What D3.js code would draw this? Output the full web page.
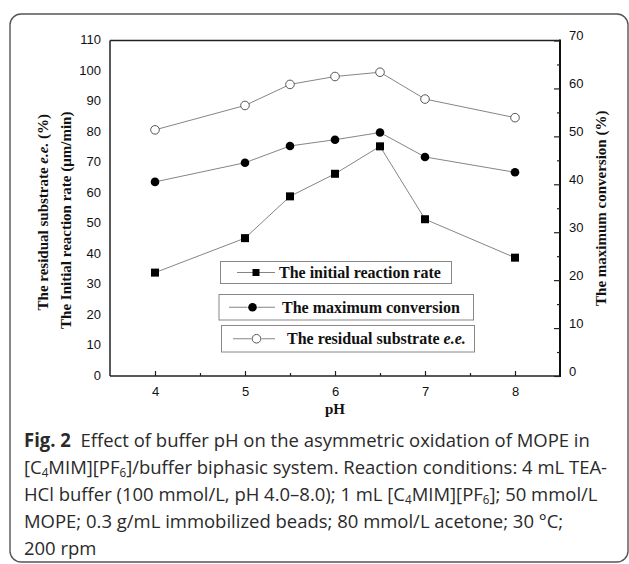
<!DOCTYPE html>
<html>
<head>
<meta charset="utf-8">
<script src="https://cdn.jsdelivr.net/npm/d3@7"></script>
<style>
  html, body { margin: 0; padding: 0; background: #fff; }
  svg { display: block; }
</style>
</head>
<body>
<svg id="chart" width="629" height="564"></svg>
<script>
// ---- data ----
const pH = [4, 5, 5.5, 6, 6.5, 7, 8];
const initialRate = [33.9, 45.2, 58.9, 66.3, 75.3, 51.4, 38.8];      // left axis
const maxConversion = [40.5, 44.5, 48.0, 49.3, 50.8, 45.7, 42.5];    // right axis
const residualEE = [80.7, 88.7, 95.6, 98.2, 99.6, 90.8, 84.7];       // left axis
const xTickLabels = [4, 5, 6, 7, 8];
const xMinorTicks = [4.5, 5.5, 6.5, 7.5];
const leftTickLabels = [0, 10, 20, 30, 40, 50, 60, 70, 80, 90, 100, 110];
const rightTickLabels = [0, 10, 20, 30, 40, 50, 60, 70];
const rightMinorTicks = [5, 15, 25, 35, 45, 55, 65];
const legendLabels = ["The initial reaction rate", "The maximum conversion", "The residual substrate "];

// ---- layout ----
const svg = d3.select("#chart");
const L = 110, R = 560, T = 40.5, B = 376;
const x = d3.scaleLinear().domain([3.5, 8.5]).range([L, R]);
const yL = d3.scaleLinear().domain([0, 110]).range([B, T]);
const yR = d3.scaleLinear().domain([0, 70]).range([B, T]);

// outer rounded border
svg.append("rect").attr("x", 10).attr("y", 14).attr("width", 618).attr("height", 548)
  .attr("rx", 11).attr("fill", "none").attr("stroke", "#555").attr("stroke-width", 1.4);

const serif = "'Liberation Serif', 'Times New Roman', serif";
const sans = "'Liberation Sans', Arial, sans-serif";

// frame
svg.append("line").attr("x1", L).attr("x2", R).attr("y1", T).attr("y2", T).attr("stroke", "#222").attr("stroke-width", 1.5);
svg.append("line").attr("x1", L).attr("x2", L).attr("y1", T).attr("y2", B).attr("stroke", "#222").attr("stroke-width", 1.5);
svg.append("line").attr("x1", L).attr("x2", R).attr("y1", B).attr("y2", B).attr("stroke", "#222").attr("stroke-width", 1.5);
svg.append("line").attr("x1", R).attr("x2", R).attr("y1", T - 1).attr("y2", B + 1).attr("stroke", "#111").attr("stroke-width", 2);

// bottom axis (ticks inward)
const xAxis = d3.axisBottom(x).tickValues(xTickLabels).tickSize(-5).tickPadding(11).tickFormat(d3.format("d"));
const gx = svg.append("g").attr("transform", `translate(0,${B})`).call(xAxis);
gx.select(".domain").remove();
gx.selectAll("line").attr("stroke", "#222").attr("stroke-width", 1.2);
gx.selectAll("text").attr("font-family", sans).attr("font-size", 13).attr("fill", "#111");
const gxm = svg.append("g").attr("transform", `translate(0,${B})`)
  .call(d3.axisBottom(x).tickValues(xMinorTicks).tickSize(-3).tickFormat(""));
gxm.select(".domain").remove();
gxm.selectAll("line").attr("stroke", "#222").attr("stroke-width", 1.2);

// left axis (labels only)
const gl = svg.append("g").attr("transform", `translate(${L},0)`)
  .call(d3.axisLeft(yL).tickValues(leftTickLabels).tickSize(0).tickPadding(9).tickFormat(d3.format("d")));
gl.select(".domain").remove();
gl.selectAll("text").attr("font-family", sans).attr("font-size", 13).attr("fill", "#111").attr("dy", "0.25em");

// right axis (ticks inward)
const gr = svg.append("g").attr("transform", `translate(${R},0)`)
  .call(d3.axisRight(yR).tickValues(rightTickLabels).tickSize(-6).tickPadding(9).tickFormat(d3.format("d")));
gr.select(".domain").remove();
gr.selectAll("line").attr("stroke", "#222").attr("stroke-width", 1.2);
gr.selectAll("text").attr("font-family", sans).attr("font-size", 13).attr("fill", "#111").attr("dy", "-0.05em");
const grm = svg.append("g").attr("transform", `translate(${R},0)`)
  .call(d3.axisRight(yR).tickValues(rightMinorTicks).tickSize(-3).tickFormat(""));
grm.select(".domain").remove();
grm.selectAll("line").attr("stroke", "#222").attr("stroke-width", 1.2);

// axis titles
svg.append("text").attr("x", x(6)).attr("y", 414).attr("text-anchor", "middle")
  .attr("font-family", serif).attr("font-weight", "bold").attr("font-size", 15).attr("fill", "#111").text("pH");

const lt1 = svg.append("text").attr("transform", `translate(48,${(T + B) / 2 + 4}) rotate(-90)`)
  .attr("text-anchor", "middle").attr("font-family", serif).attr("font-weight", "bold").attr("font-size", 15).attr("fill", "#111");
lt1.append("tspan").text("The residual substrate ");
lt1.append("tspan").attr("font-style", "italic").text("e.e.");
lt1.append("tspan").text(" (%)");
svg.append("text").attr("transform", `translate(71,${(T + B) / 2 + 12}) rotate(-90)`)
  .attr("text-anchor", "middle").attr("font-family", serif).attr("font-weight", "bold").attr("font-size", 15).attr("fill", "#111")
  .text("The Initial reaction rate (μm/min)");
svg.append("text").attr("transform", `translate(606,${(T + B) / 2}) rotate(-90)`)
  .attr("text-anchor", "middle").attr("font-family", serif).attr("font-weight", "bold").attr("font-size", 15).attr("fill", "#111")
  .text("The maximum conversion (%)");

// series
const series = [
  { vals: residualEE, scale: yL, shape: "openCircle" },
  { vals: maxConversion, scale: yR, shape: "circle" },
  { vals: initialRate, scale: yL, shape: "square" }
];
function drawMarker(g, shape, cx, cy) {
  if (shape === "square") {
    g.append("rect").attr("x", cx - 4).attr("y", cy - 4).attr("width", 8).attr("height", 8).attr("fill", "#000");
  } else if (shape === "circle") {
    g.append("circle").attr("cx", cx).attr("cy", cy).attr("r", 4.3).attr("fill", "#000");
  } else {
    g.append("circle").attr("cx", cx).attr("cy", cy).attr("r", 4.3).attr("fill", "#fff").attr("stroke", "#444").attr("stroke-width", 0.9);
  }
}
series.forEach(s => {
  const data = pH.map((p, i) => [p, s.vals[i]]);
  svg.append("path").datum(data)
    .attr("d", d3.line().x(d => x(d[0])).y(d => s.scale(d[1])))
    .attr("fill", "none").attr("stroke", "#777").attr("stroke-width", 0.9);
  const g = svg.append("g");
  data.forEach(d => drawMarker(g, s.shape, x(d[0]), s.scale(d[1])));
});

// legend boxes
const boxes = [
  { x: 220.5, y: 261.5, w: 231, h: 22, lx1: 237, lx2: 275, mx: 256, tx: 279, shape: "square" },
  { x: 219, y: 294.5, w: 254.5, h: 25.5, lx1: 229, lx2: 275, mx: 252.5, tx: 282, shape: "circle" },
  { x: 221.5, y: 325.5, w: 253, h: 26.5, lx1: 233, lx2: 275, mx: 256.5, tx: 287, shape: "openCircle" }
];
boxes.forEach((b, i) => {
  const g = svg.append("g");
  g.append("rect").attr("x", b.x).attr("y", b.y).attr("width", b.w).attr("height", b.h)
    .attr("fill", "#fff").attr("stroke", "#888").attr("stroke-width", 1);
  const cy = b.y + b.h / 2;
  g.append("line").attr("x1", b.lx1).attr("x2", b.lx2).attr("y1", cy).attr("y2", cy).attr("stroke", "#777").attr("stroke-width", 0.9);
  if (b.shape === "square") {
    g.append("rect").attr("x", b.mx - 3.5).attr("y", cy - 3.5).attr("width", 7).attr("height", 7).attr("fill", "#000");
  } else {
    g.append("rect").attr("x", b.mx - 5).attr("y", cy - 5).attr("width", 10).attr("height", 10).attr("fill", "#fff");
    drawMarker(g, b.shape, b.mx, cy);
  }
  const t = g.append("text").attr("x", b.tx).attr("y", cy + 5.5).attr("font-family", serif).attr("font-weight", "bold")
    .attr("font-size", 16).attr("fill", "#111");
  t.append("tspan").text(legendLabels[i]);
  if (i === 2) t.append("tspan").attr("font-style", "italic").text("e.e.");
});

// caption
const capFont = "'Open Sans', 'Noto Sans', sans-serif";
const cap = svg.append("g").attr("fill", "#2a2a2a").attr("font-family", capFont).attr("font-size", 19);
const capLines = [
  [["b", "Fig. 2"], ["t", "\u00a0\u00a0Effect of buffer pH on the asymmetric oxidation of MOPE in"]],
  [["t", "[C"], ["s", "4"], ["t", "MIM][PF"], ["s", "6"], ["t", "]/buffer biphasic system. Reaction conditions: 4 mL TEA-"]],
  [["t", "HCl buffer (100 mmol/L, pH 4.0–8.0); 1 mL [C"], ["s", "4"], ["t", "MIM][PF"], ["s", "6"], ["t", "]; 50 mmol/L"]],
  [["t", "MOPE; 0.3 g/mL immobilized beads; 80 mmol/L acetone; 30 °C;"]],
  [["t", "200 rpm"]]
];
const capTexts = [];
capLines.forEach((parts, i) => {
  const t = cap.append("text").attr("x", 0).attr("y", 447 + i * 27);
  let shifted = false;
  parts.forEach(([k, s]) => {
    const sp = t.append("tspan").text(s);
    if (k === "b") sp.attr("font-weight", "bold");
    if (k === "s") { sp.attr("font-size", 12).attr("dy", 3.5); shifted = true; }
    else if (shifted) { sp.attr("dy", -3.5); shifted = false; }
  });
  capTexts.push(t);
});
const w0 = capTexts[0].node().getComputedTextLength();
const sx = (590 - 24) / w0;
cap.attr("transform", `translate(24,0) scale(${sx},1)`);
</script>
</body>
</html>
